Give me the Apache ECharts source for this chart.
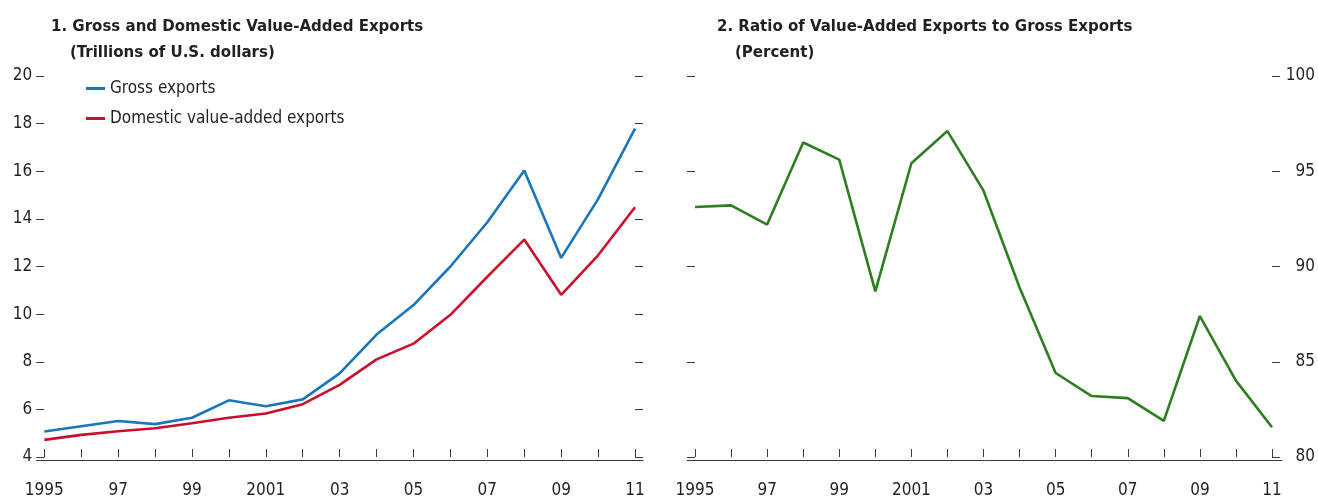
<!DOCTYPE html>
<html>
<head>
<meta charset="utf-8">
<script src="https://cdn.jsdelivr.net/npm/echarts@6/dist/echarts.min.js"></script>
<style>
html,body{margin:0;padding:0;background:#fff;}
#chart{width:1318px;height:499px;}
</style>
</head>
<body>
<div id="chart"></div>
<script>
const years = ['1995','1996','1997','1998','1999','2000','2001','2002','2003','2004','2005','2006','2007','2008','2009','2010','2011'];
const grossExports = [5.07, 5.29, 5.51, 5.38, 5.65, 6.38, 6.13, 6.42, 7.51, 9.14, 10.38, 12.0, 13.86, 16.03, 12.36, 14.83, 17.79];
const domesticVAExports = [4.72, 4.93, 5.08, 5.21, 5.42, 5.65, 5.83, 6.22, 7.03, 8.10, 8.76, 9.97, 11.57, 13.13, 10.81, 12.47, 14.49];
const vaRatio = [93.12, 93.21, 92.20, 96.51, 95.61, 88.69, 95.42, 97.11, 93.98, 88.90, 84.41, 83.20, 83.09, 81.90, 87.40, 84.01, 81.56];
const leftTicks = {min: 4, max: 20, interval: 2};
const rightTicks = {min: 80, max: 100, interval: 5};
const titles = [
  '1. Gross and Domestic Value-Added Exports',
  '(Trillions of U.S. dollars)',
  '2. Ratio of Value-Added Exports to Gross Exports',
  '(Percent)'
];

const FONT = '"Liberation Sans Narrow","DejaVu Sans Condensed","Arial Narrow",sans-serif';
const TXT = '#231f20';
const AX = '#3a3a3a';
const LBL = 17;

function yearLabel(v) {
  if (v === '1995' || v === '2001') return v;
  return v.slice(2);
}

const xBase = (gridIndex) => ({
  type: 'category', gridIndex, data: years, boundaryGap: false,
  axisLine: {show: false},
  axisTick: {show: true, inside: true, length: 8, interval: 0, lineStyle: {color: AX, width: 1}},
  axisLabel: {show: true, interval: 1, margin: 25, color: TXT, fontFamily: FONT, fontSize: LBL, formatter: yearLabel},
  splitLine: {show: false}
});
const xLine = (gridIndex) => ({
  type: 'value', gridIndex, min: 0, max: 1,
  axisLine: {show: true, lineStyle: {color: AX, width: 1}},
  axisTick: {show: false}, axisLabel: {show: false}, splitLine: {show: false}
});
const yBase = (gridIndex, ticks, position, showLabel, extraLabel) => ({
  type: 'value', gridIndex, position, min: ticks.min, max: ticks.max, interval: ticks.interval,
  axisLine: {show: false},
  axisTick: {show: true, inside: false, length: 8, lineStyle: {color: AX, width: 1}},
  axisLabel: Object.assign({show: showLabel, color: TXT, fontFamily: FONT, fontSize: LBL, padding: [5, 0, 0, 0]}, extraLabel || {}),
  splitLine: {show: false}
});
const yDummy = (gridIndex) => ({
  type: 'value', gridIndex, min: 0, max: 1, show: false
});

const titleStyle = {color: TXT, fontFamily: FONT, fontSize: 16.7, fontWeight: 'bold'};

const option = {
  animation: false,
  backgroundColor: '#ffffff',
  title: [
    {text: titles[0], left: 51, top: 18, textStyle: titleStyle, padding: 0},
    {text: titles[1], left: 70, top: 44, textStyle: titleStyle, padding: 0},
    {text: titles[2], left: 717, top: 18, textStyle: titleStyle, padding: 0},
    {text: titles[3], left: 735, top: 44, textStyle: titleStyle, padding: 0}
  ],
  legend: {
    orient: 'vertical', left: 86, top: 80, itemWidth: 19, itemHeight: 3, itemGap: 13,
    icon: 'rect', padding: 0,
    textStyle: {color: TXT, fontFamily: FONT, fontSize: LBL, padding: [2, 0, 0, 0]},
    data: ['Gross exports', 'Domestic value-added exports']
  },
  grid: [
    {left: 44.3, right: 683, top: 76, bottom: 39},
    {left: 36.5, right: 675, top: 76, bottom: 39},
    {left: 695, right: 44.7, top: 76, bottom: 39},
    {left: 687, right: 36, top: 76, bottom: 39}
  ],
  xAxis: [xBase(0), xLine(1), xBase(2), xLine(3)],
  yAxis: [
    yBase(0, leftTicks, 'left', true, {margin: 12}),
    yBase(0, leftTicks, 'right', false),
    yBase(2, rightTicks, 'left', false),
    yBase(2, rightTicks, 'right', true, {margin: 43, align: 'right'}),
    yDummy(1),
    yDummy(3)
  ],
  series: [
    {name: 'Gross exports', type: 'line', xAxisIndex: 0, yAxisIndex: 0, data: grossExports,
     showSymbol: false, symbol: 'none', lineStyle: {color: '#1b75bb', width: 2.6}, itemStyle: {color: '#1b75bb'}},
    {name: 'Domestic value-added exports', type: 'line', xAxisIndex: 0, yAxisIndex: 0, data: domesticVAExports,
     showSymbol: false, symbol: 'none', lineStyle: {color: '#c8102e', width: 2.6}, itemStyle: {color: '#c8102e'}},
    {name: 'Ratio', type: 'line', xAxisIndex: 2, yAxisIndex: 3, data: vaRatio,
     showSymbol: false, symbol: 'none', lineStyle: {color: '#2f7d22', width: 2.6}, itemStyle: {color: '#2f7d22'}}
  ]
};

const chart = echarts.init(document.getElementById('chart'), null, {renderer: 'canvas'});
chart.setOption(option);
</script>
</body>
</html>
